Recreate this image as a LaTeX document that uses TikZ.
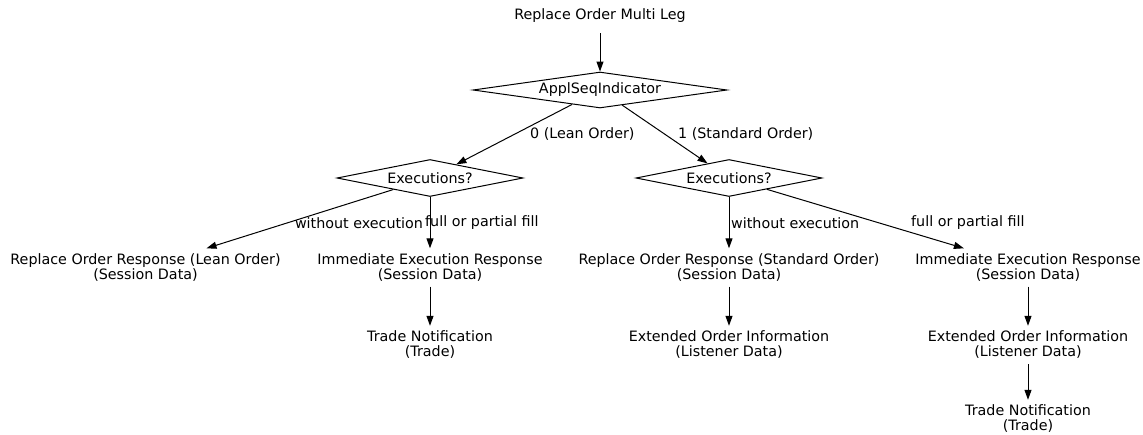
\documentclass[tikz,border=0pt]{standalone}
\usepackage{fontspec}
\setmainfont{DejaVu Sans}
\usetikzlibrary{shapes.geometric,arrows.meta}
\begin{document}
\begin{tikzpicture}[x=1pt,y=-1pt,
  every node/.style={font=\fontsize{14.3}{15}\selectfont},
  dec/.style={diamond,draw,line width=1pt,inner sep=0pt,aspect=5},
  txt/.style={align=center,inner sep=0pt,minimum height=38pt},
  conn/.style={draw,line width=1pt,-{Triangle[length=10pt,width=7pt]}},
  lbl/.style={inner sep=0pt}]
\useasboundingbox (0,0) rectangle (1143,434);
\node[txt,minimum height=34pt] (t) at (600,16) {Replace Order Multi Leg};
\node[dec,minimum width=254pt,minimum height=36pt,aspect=7] (a) at (600,90) {ApplSeqIndicator};
\node[dec,minimum width=186pt,minimum height=37pt] (e1) at (430,178) {Executions?};
\node[dec,minimum width=186pt,minimum height=37pt] (e2) at (729,178) {Executions?};
\node[txt] (r1) at (145.5,267.5) {Replace Order Response (Lean Order)\\(Session Data)};
\node[txt] (i1) at (430,267.5) {Immediate Execution Response\\(Session Data)};
\node[txt] (t1) at (430,345) {Trade Notification\\(Trade)};
\node[txt] (r2) at (729,267.5) {Replace Order Response (Standard Order)\\(Session Data)};
\node[txt] (x2) at (729,345) {Extended Order Information\\(Listener Data)};
\node[txt] (i3) at (1028,267.5) {Immediate Execution Response\\(Session Data)};
\node[txt] (x3) at (1028,345) {Extended Order Information\\(Listener Data)};
\node[txt] (t3) at (1028,419) {Trade Notification\\(Trade)};
\draw[conn] (t) -- (a);
\draw[conn] (a) -- (e1);
\draw[conn] (a) -- (e2);
\draw[conn] (e1) -- (r1);
\draw[conn] (e1) -- (i1);
\draw[conn] (i1) -- (t1);
\draw[conn] (e2) -- (r2);
\draw[conn] (e2) -- (i3);
\draw[conn] (r2) -- (x2);
\draw[conn] (i3) -- (x3);
\draw[conn] (x3) -- (t3);
\node[lbl,anchor=west] (l0) at (530,134) {0 (Lean Order)};
\node[lbl,anchor=west] (l1) at (678,134) {1 (Standard Order)};
\node[lbl] (l2) at (359,223) {without execution};
\node[lbl,anchor=west] (l3) at (425,223) {full or partial fill};
\node[lbl,anchor=west] (l4) at (731,223) {without execution};
\node[lbl,anchor=west] (l5) at (911,223) {full or partial fill};
\end{tikzpicture}
\end{document}
